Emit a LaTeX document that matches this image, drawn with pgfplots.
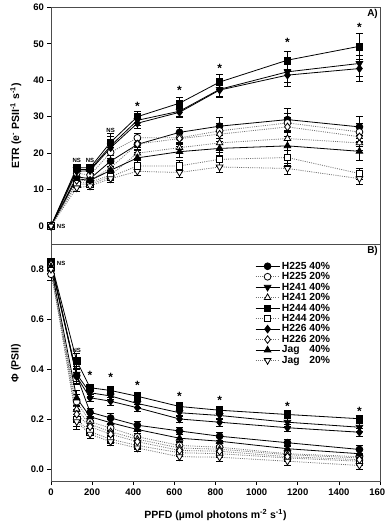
\documentclass[border=0pt]{standalone}
\usepackage{fontspec}
\setmainfont{Liberation Sans}
\usepackage{pgfplots}
\pgfplotsset{compat=1.18}
\pgfplotsset{
 base/.style={scale only axis, width=329bp, xmin=0, xmax=1600,
   axis line style={line width=1bp, black!70}, tick style={black, line width=0.6bp},
   tick align=outside, major tick length=3.5bp, xtick pos=left, ytick pos=left,
   /pgf/number format/assume math mode=true,
   /pgf/number format/set thousands separator={},
   tick label style={font=\fontsize{9.5bp}{11bp}\selectfont\bfseries},
   label style={font=\fontsize{10.5bp}{12bp}\selectfont\bfseries},
   clip=false},
 s40/.style={black, line width=0.8bp, solid},
 s20/.style={black!55, line width=0.8bp, dash pattern=on 1bp off 1.2bp},
 eb/.style={error bars/.cd, y dir=both, y explicit,
   error bar style={solid, black, line width=0.6bp},
   error mark options={rotate=90, mark size=3.5bp, solid, black, line width=0.6bp}},
 ann/.style={draw=none, mark=none, forget plot, nodes near coords, point meta=explicit symbolic,
   every node near coord/.append style={anchor=center, inner sep=0pt, font=#1}},
}
\newcommand{\nsfont}{\fontsize{6bp}{7bp}\selectfont\bfseries}
\newcommand{\stfont}{\fontsize{12bp}{13bp}\selectfont\bfseries}
\begin{document}
\begin{tikzpicture}
\useasboundingbox (0,0) rectangle (385bp,526bp);
% ---------------- Panel A ----------------
\begin{axis}[base, at={(51bp,281.7bp)}, anchor=south west, height=237bp,
  ymin=-5, ymax=60, ytick={0,10,...,60}, xtick=\empty,
  ylabel={ETR (e\textsuperscript{-} PSII\textsuperscript{-1} s\textsuperscript{-1})},
  ylabel style={at={(axis description cs:-0.107,0.5)}, anchor=center, rotate=0}]
% H225 40%
\addplot[s40, mark=*, mark size=3.4bp, mark options={solid, fill=black}, eb] coordinates {
 (0,0) +- (0,0.3) (125,13.5) +- (0,1) (190,13) +- (0,1) (290,17.8) +- (0,1.5) (420,22.4) +- (0,1.5)
 (625,25.7) +- (0,1.5) (820,27.4) +- (0,2.5) (1150,29.2) +- (0,3) (1500,27.2) +- (0,3)};
% H225 20%
\addplot[s20, mark=*, mark size=3.4bp, mark options={solid, fill=white, draw=black}, eb] coordinates {
 (0,0) +- (0,0.3) (125,14.5) +- (0,1) (190,14) +- (0,1) (290,20.2) +- (0,1.5) (420,24.2) +- (0,1.2)
 (625,24.2) +- (0,1.5) (820,26.1) +- (0,2) (1150,28.3) +- (0,2.5) (1500,25.8) +- (0,2.5)};
% H241 40%
\addplot[s40, mark=triangle*, mark size=3.8bp, mark options={solid, fill=black, rotate=180}, eb] coordinates {
 (0,0) +- (0,0.3) (125,15.5) +- (0,1) (190,15.5) +- (0,1) (290,22) +- (0,2.5) (420,29) +- (0,1.5)
 (625,31.5) +- (0,1.5) (820,37.5) +- (0,2) (1150,42.3) +- (0,3) (1500,44.6) +- (0,3.5)};
% H241 20%
\addplot[s20, mark=triangle*, mark size=3.8bp, mark options={solid, fill=white, draw=black}, eb] coordinates {
 (0,0) +- (0,0.3) (125,12) +- (0,1) (190,12) +- (0,1) (290,14) +- (0,1.2) (420,20) +- (0,1.5)
 (625,21.5) +- (0,1.5) (820,22.8) +- (0,2) (1150,24) +- (0,2) (1500,22.8) +- (0,2)};
% H244 40%
\addplot[s40, mark=square*, mark size=3.2bp, mark options={solid, fill=black}, eb] coordinates {
 (0,0) +- (0,0.3) (125,16) +- (0,1) (190,16) +- (0,1) (290,23) +- (0,2.5) (420,30) +- (0,1.5)
 (625,33.7) +- (0,1.5) (820,39.5) +- (0,2) (1150,45.5) +- (0,2.5) (1500,49.3) +- (0,3.5)};
% H244 20%
\addplot[s20, mark=square*, mark size=3.2bp, mark options={solid, fill=white, draw=black}, eb] coordinates {
 (0,0) +- (0,0.3) (125,11.5) +- (0,1) (190,11.5) +- (0,1) (290,13.5) +- (0,1) (420,16.5) +- (0,1.5)
 (625,16.5) +- (0,1.5) (820,18.3) +- (0,2) (1150,18.8) +- (0,2) (1500,14.4) +- (0,1.5)};
% H226 40%
\addplot[s40, mark=diamond*, mark size=3.8bp, mark options={solid, fill=black}, eb] coordinates {
 (0,0) +- (0,0.3) (125,15) +- (0,1) (190,15.2) +- (0,1) (290,21.5) +- (0,2) (420,28.2) +- (0,1.5)
 (625,31.2) +- (0,1.5) (820,37.3) +- (0,2) (1150,41.4) +- (0,3) (1500,43.2) +- (0,3.5)};
% H226 20%
\addplot[s20, mark=diamond*, mark size=3.8bp, mark options={solid, fill=white, draw=black}, eb] coordinates {
 (0,0) +- (0,0.3) (125,12.5) +- (0,1) (190,12.5) +- (0,1) (290,16) +- (0,1.2) (420,22.5) +- (0,1.5)
 (625,24) +- (0,1.5) (820,25.2) +- (0,2) (1150,27.2) +- (0,2.5) (1500,24.5) +- (0,2.5)};
% Jag 40%
\addplot[s40, mark=triangle*, mark size=3.8bp, mark options={solid, fill=black}, eb] coordinates {
 (0,0) +- (0,0.3) (125,13) +- (0,1) (190,12.5) +- (0,1) (290,15.3) +- (0,1.2) (420,18.7) +- (0,1.5)
 (625,20.4) +- (0,1.5) (820,21.3) +- (0,2) (1150,22) +- (0,2.5) (1500,20.5) +- (0,2.5)};
% Jag 20%
\addplot[s20, mark=triangle*, mark size=3.8bp, mark options={solid, fill=white, draw=black, rotate=180}, eb] coordinates {
 (0,0) +- (0,0.3) (125,10.5) +- (0,1) (190,11) +- (0,1) (290,13) +- (0,1) (420,15) +- (0,1.2)
 (625,14.7) +- (0,1.2) (820,16.2) +- (0,1.5) (1150,15.8) +- (0,1.5) (1500,13) +- (0,1.5)};
% annotations
\addplot[ann=\nsfont] coordinates {(125,18.1)[NS] (190,18.1)[NS] (290,26.3)[NS]};
\addplot[ann=\nsfont, every node near coord/.append style={anchor=west}] coordinates {(28,0)[NS]};
\addplot[ann=\stfont] coordinates {(420,32.9)[*] (625,37.1)[*] (820,43.3)[*] (1150,50.3)[*] (1500,54.6)[*]};
\node[anchor=north east, font=\fontsize{10bp}{11bp}\selectfont\bfseries, inner sep=2bp] at (rel axis cs:1,1) {A)};
\end{axis}
% ---------------- Panel B ----------------
\begin{axis}[base, at={(51bp,44.3bp)}, anchor=south west, height=237.4bp,
  ymin=-0.05, ymax=0.9, ytick={0,0.2,...,0.8}, xtick={0,200,...,1600},
  yticklabel style={/pgf/number format/.cd, fixed, fixed zerofill, precision=1},
  ylabel={Φ (PSII)},
  ylabel style={at={(axis description cs:-0.107,0.5)}, anchor=center, rotate=0},
  xlabel={PPFD (µmol photons m\textsuperscript{-2} s\textsuperscript{-1})},
  xlabel style={at={(axis description cs:0.5,-0.139)}, anchor=center},
  legend style={at={(0.62,0.935)}, anchor=north west, draw=none, fill=none,
    font=\fontsize{10.3bp}{12bp}\selectfont\bfseries, row sep=-2.2bp, inner sep=0pt},
  legend cell align=left,
  legend image code/.code={\draw[mark repeat=2, mark phase=2, #1] plot coordinates {(0bp,0bp) (12bp,0bp) (24bp,0bp)};}]
\addplot[s40, mark=*, mark size=3.4bp, mark options={solid, fill=black}, eb] coordinates {
 (0,0.83) +- (0,0.015) (125,0.375) +- (0,0.03) (190,0.228) +- (0,0.015) (290,0.205) +- (0,0.02) (420,0.176) +- (0,0.015)
 (625,0.153) +- (0,0.015) (820,0.132) +- (0,0.015) (1150,0.106) +- (0,0.015) (1500,0.079) +- (0,0.015)};
\addlegendentry{H225 40\%}
\addplot[s20, mark=*, mark size=3.4bp, mark options={solid, fill=white, draw=black}, eb] coordinates {
 (0,0.78) +- (0,0.025) (125,0.27) +- (0,0.03) (190,0.19) +- (0,0.015) (290,0.165) +- (0,0.015) (420,0.13) +- (0,0.015)
 (625,0.095) +- (0,0.015) (820,0.088) +- (0,0.015) (1150,0.062) +- (0,0.015) (1500,0.05) +- (0,0.015)};
\addlegendentry{H225 20\%}
\addplot[s40, mark=triangle*, mark size=3.8bp, mark options={solid, fill=black, rotate=180}, eb] coordinates {
 (0,0.82) +- (0,0.015) (125,0.38) +- (0,0.03) (190,0.306) +- (0,0.015) (290,0.293) +- (0,0.015) (420,0.263) +- (0,0.015)
 (625,0.226) +- (0,0.015) (820,0.215) +- (0,0.015) (1150,0.188) +- (0,0.015) (1500,0.168) +- (0,0.015)};
\addlegendentry{H241 40\%}
\addplot[s20, mark=triangle*, mark size=3.8bp, mark options={solid, fill=white, draw=black}, eb] coordinates {
 (0,0.80) +- (0,0.015) (125,0.24) +- (0,0.03) (190,0.18) +- (0,0.015) (290,0.15) +- (0,0.015) (420,0.12) +- (0,0.015)
 (625,0.085) +- (0,0.015) (820,0.08) +- (0,0.015) (1150,0.058) +- (0,0.015) (1500,0.045) +- (0,0.015)};
\addlegendentry{H241 20\%}
\addplot[s40, mark=square*, mark size=3.2bp, mark options={solid, fill=black}, eb] coordinates {
 (0,0.83) +- (0,0.015) (125,0.433) +- (0,0.03) (190,0.326) +- (0,0.015) (290,0.315) +- (0,0.015) (420,0.292) +- (0,0.015)
 (625,0.251) +- (0,0.015) (820,0.236) +- (0,0.015) (1150,0.219) +- (0,0.015) (1500,0.202) +- (0,0.015)};
\addlegendentry{H244 40\%}
\addplot[s20, mark=square*, mark size=3.2bp, mark options={solid, fill=white, draw=black}, eb] coordinates {
 (0,0.81) +- (0,0.015) (125,0.20) +- (0,0.03) (190,0.15) +- (0,0.015) (290,0.12) +- (0,0.015) (420,0.095) +- (0,0.015)
 (625,0.066) +- (0,0.015) (820,0.062) +- (0,0.015) (1150,0.045) +- (0,0.015) (1500,0.032) +- (0,0.015)};
\addlegendentry{H244 20\%}
\addplot[s40, mark=diamond*, mark size=3.8bp, mark options={solid, fill=black}, eb] coordinates {
 (0,0.82) +- (0,0.015) (125,0.37) +- (0,0.03) (190,0.286) +- (0,0.015) (290,0.272) +- (0,0.015) (420,0.246) +- (0,0.015)
 (625,0.201) +- (0,0.015) (820,0.188) +- (0,0.015) (1150,0.166) +- (0,0.015) (1500,0.148) +- (0,0.015)};
\addlegendentry{H226 40\%}
\addplot[s20, mark=diamond*, mark size=3.8bp, mark options={solid, fill=white, draw=black}, eb] coordinates {
 (0,0.82) +- (0,0.015) (125,0.22) +- (0,0.03) (190,0.17) +- (0,0.015) (290,0.14) +- (0,0.015) (420,0.11) +- (0,0.015)
 (625,0.075) +- (0,0.015) (820,0.072) +- (0,0.015) (1150,0.05) +- (0,0.015) (1500,0.038) +- (0,0.015)};
\addlegendentry{H226 20\%}
\addplot[s40, mark=triangle*, mark size=3.8bp, mark options={solid, fill=black}, eb] coordinates {
 (0,0.81) +- (0,0.015) (125,0.285) +- (0,0.03) (190,0.21) +- (0,0.015) (290,0.186) +- (0,0.015) (420,0.159) +- (0,0.015)
 (625,0.124) +- (0,0.015) (820,0.112) +- (0,0.015) (1150,0.082) +- (0,0.015) (1500,0.062) +- (0,0.015)};
\addlegendentry{\rlap{Jag}\hphantom{H225} 40\%}
\addplot[s20, mark=triangle*, mark size=3.8bp, mark options={solid, fill=white, draw=black, rotate=180}, eb] coordinates {
 (0,0.80) +- (0,0.015) (125,0.19) +- (0,0.03) (190,0.14) +- (0,0.015) (290,0.11) +- (0,0.015) (420,0.085) +- (0,0.015)
 (625,0.05) +- (0,0.015) (820,0.048) +- (0,0.015) (1150,0.032) +- (0,0.015) (1500,0.015) +- (0,0.015)};
\addlegendentry{\rlap{Jag}\hphantom{H225} 20\%}
\addplot[ann=\nsfont] coordinates {(125,0.475)[NS]};
\addplot[ann=\nsfont, every node near coord/.append style={anchor=west}] coordinates {(28,0.825)[NS]};
\addplot[ann=\stfont] coordinates {(190,0.374)[*] (290,0.367)[*] (420,0.337)[*] (625,0.292)[*] (820,0.276)[*] (1150,0.253)[*] (1500,0.233)[*]};
\node[anchor=north east, font=\fontsize{10bp}{11bp}\selectfont\bfseries, inner sep=2bp] at (rel axis cs:1,1) {B)};
\end{axis}
\end{tikzpicture}
\end{document}
